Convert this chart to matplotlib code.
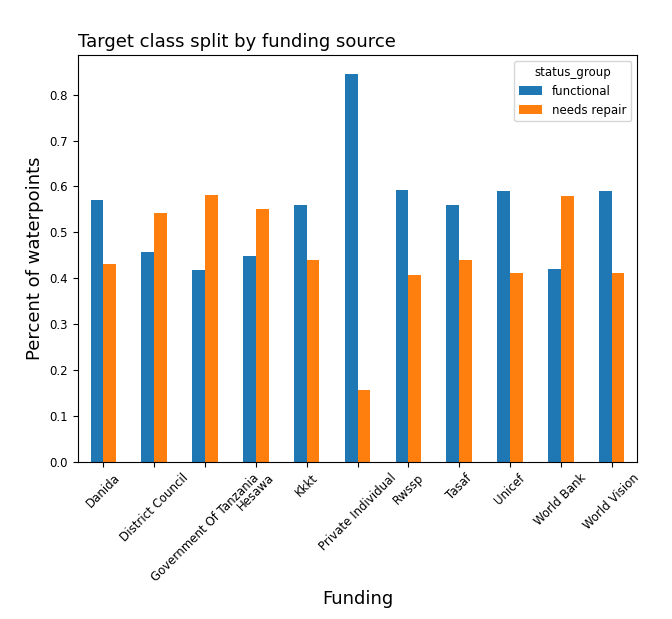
import numpy as np
import matplotlib
matplotlib.use("Agg")
import matplotlib.pyplot as plt

funders = ["Danida", "District Council", "Government Of Tanzania", "Hesawa", "Kkkt",
           "Private Individual", "Rwssp", "Tasaf", "Unicef", "World Bank", "World Vision"]
functional = [0.570, 0.458, 0.418, 0.449, 0.560, 0.844, 0.593, 0.560, 0.589, 0.421, 0.589]
needs_repair = [0.430, 0.542, 0.582, 0.551, 0.440, 0.156, 0.407, 0.440, 0.411, 0.579, 0.411]

fig = plt.figure(figsize=(6.72, 6.19), dpi=100)
ax = fig.add_axes([0.116, 0.254, 0.832, 0.657])

x = np.arange(len(funders))
w = 0.25
ax.bar(x - w / 2, functional, w, color="#1f77b4", label="functional")
ax.bar(x + w / 2, needs_repair, w, color="#ff7f0e", label="needs repair")

ax.set_xlim(-0.5, len(funders) - 0.5)
ax.set_xticks(x)
ax.set_xticklabels(funders, rotation=45)
ax.tick_params(labelsize=8.5)
ax.set_title("Target class split by funding source", loc="left", fontsize=13)
ax.set_xlabel("Funding", fontsize=13)
ax.set_ylabel("Percent of waterpoints", fontsize=13)
ax.legend(title="status_group", loc="upper right", fontsize=8.5, title_fontsize=8.5)

fig.savefig("out.png", dpi=100)
